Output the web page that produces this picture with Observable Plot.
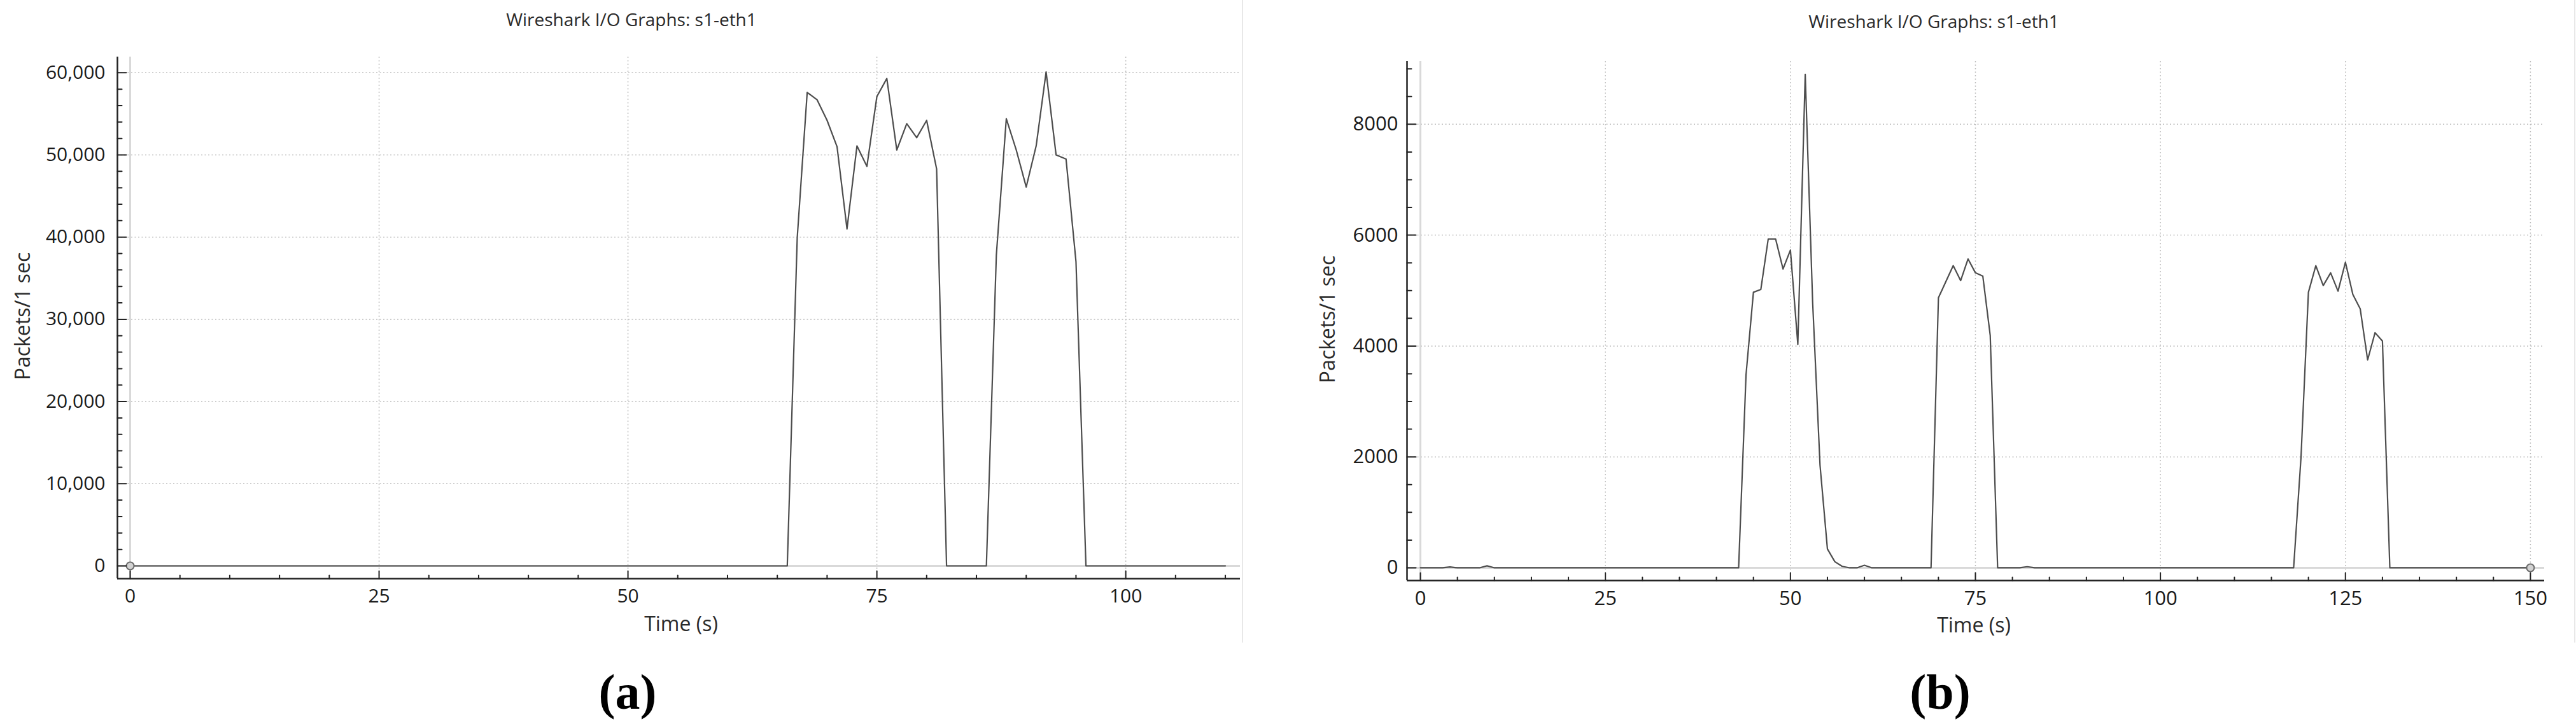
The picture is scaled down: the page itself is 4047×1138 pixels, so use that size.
<!DOCTYPE html>
<html><head><meta charset="utf-8">
<script src="https://cdn.jsdelivr.net/npm/d3@7"></script>
<script src="https://cdn.jsdelivr.net/npm/@observablehq/plot@0.6"></script>
<style>
body{margin:0;background:#fff;}
#page{position:relative;width:4047px;height:1138px;overflow:hidden;background:#fff;font-family:"Open Sans",sans-serif;}
.t{position:absolute;white-space:nowrap;transform:translate(-50%,-50%);color:#2a2a2a;line-height:1;}
.rot{transform:translate(-50%,-50%) rotate(-90deg);}
.cap{font-family:"Liberation Serif",serif;font-weight:bold;font-size:78px;color:#000;}
.chart{position:absolute;top:0;}
.border{position:absolute;top:0;width:2px;height:1010px;background:#e8e8e8;}
</style></head><body><div id="page"></div>
<script>
// ---- Panel (a) data: packets per second on s1-eth1 ----
const leftTime    = [0, 66, 67, 68, 69, 70, 71, 72, 73, 74, 75, 76, 77, 78, 79, 80, 81, 82, 86, 87, 88, 89, 90, 91, 92, 93, 94, 95, 96, 110];
const leftPackets = [0, 0, 39900, 57600, 56700, 54200, 51000, 41000, 51100, 48600, 57100, 59300, 50600, 53800, 52100, 54200, 48300, 0, 0, 37800, 54400, 50600, 46100, 51100, 60100, 50000, 49500, 37000, 0, 0];
const leftMarkerTime = [0];
const leftXMajor = [0, 25, 50, 75, 100];
const leftXMinor = [5,10,15,20,30,35,40,45,55,60,65,70,80,85,90,95,105,110];
const leftYMajor = [0, 10000, 20000, 30000, 40000, 50000, 60000];
const leftYMinor = [2000,4000,6000,8000,12000,14000,16000,18000,22000,24000,26000,28000,32000,34000,36000,38000,42000,44000,46000,48000,52000,54000,56000,58000];

// ---- Panel (b) data ----
const rightTime    = [0, 3, 4, 5, 8, 9, 10, 43, 44, 45, 46, 47, 48, 49, 50, 51, 52, 53, 54, 55, 56, 57, 58, 59, 60, 61, 69, 70, 71, 72, 73, 74, 75, 76, 77, 78, 81, 82, 83, 118, 119, 120, 121, 122, 123, 124, 125, 126, 127, 128, 129, 130, 131, 150];
const rightPackets = [0, 0, 15, 0, 0, 35, 0, 0, 3480, 4970, 5020, 5930, 5930, 5390, 5730, 4030, 8900, 4800, 1850, 340, 110, 25, 0, 0, 45, 0, 0, 4870, 5160, 5450, 5180, 5570, 5320, 5260, 4190, 0, 0, 20, 0, 0, 2000, 4970, 5450, 5090, 5320, 4990, 5510, 4930, 4670, 3750, 4240, 4090, 0, 0];
const rightMarkerTime = [150];
const rightXMajor = [0, 25, 50, 75, 100, 125, 150];
const rightXMinor = [5,10,15,20,30,35,40,45,55,60,65,70,80,85,90,95,105,110,115,120,130,135,140,145];
const rightYMajor = [0, 2000, 4000, 6000, 8000];
const rightYMinor = [500,1000,1500,2500,3000,3500,4500,5000,5500,6500,7000,7500,8500,9000];

const tickShape = {draw(ctx, l){ ctx.moveTo(0,0); ctx.lineTo(0,-l); }};

function panel(o){
  const data = o.time.map((t,i)=>({t, v:o.packets[i]}));
  const markers = o.markers.map(t=>({t, v:0}));
  const grid = {stroke:"#bdbdbd", strokeOpacity:1, strokeWidth:1.5, strokeDasharray:"2,3.5"};
  const tk = {stroke:"#222", strokeWidth:2, shape:tickShape, anchor:"start"};
  return Plot.plot({
    width:o.width, height:o.height,
    marginLeft:o.ml, marginRight:o.mr, marginTop:o.mt, marginBottom:o.mb,
    x:{domain:o.xDomain}, y:{domain:o.yDomain},
    style:{fontFamily:"Open Sans", fontSize:o.fs+"px", color:"#1a1a1a", background:"transparent", overflow:"visible"},
    marks:[
      Plot.gridX(o.xMajor.filter(d=>d!==0), grid),
      Plot.gridY(o.yMajor.filter(d=>d!==0), grid),
      Plot.ruleX([0], {stroke:"#d9d9d9", strokeWidth:3}),
      Plot.ruleY([0], {stroke:"#d9d9d9", strokeWidth:3}),
      Plot.line(data, {x:"t", y:"v", stroke:"#4d4d4d", strokeWidth:2.2}),
      Plot.dot(markers, {x:"t", y:"v", r:6, fill:"#d2d2d2", stroke:"#6a6a6a", strokeWidth:2}),
      Plot.ruleX([o.xDomain[0]], {stroke:"#222", strokeWidth:2.5}),
      Plot.ruleY([o.yDomain[0]], {stroke:"#222", strokeWidth:2.5}),
      Plot.vector(o.xMajor, {x:d=>d, frameAnchor:"bottom", length:12, ...tk}),
      Plot.vector(o.xMinor, {x:d=>d, frameAnchor:"bottom", length:5, ...tk}),
      Plot.vector(o.yMajor, {y:d=>d, frameAnchor:"left", length:14, rotate:90, ...tk}),
      Plot.vector(o.yMinor, {y:d=>d, frameAnchor:"left", length:7, rotate:90, ...tk}),
      Plot.axisX({ticks:o.xMajor, tickSize:0, tickPadding:16, label:null, fill:"#1a1a1a"}),
      Plot.axisY({ticks:o.yMajor, tickSize:0, tickPadding:o.tp, tickFormat:o.yFormat, label:null, fill:"#1a1a1a"})
    ]
  });
}

const page = document.getElementById("page");
function add(el, left){ el.classList.add("chart"); el.style.left = left+"px"; page.appendChild(el); }

add(panel({time:leftTime, packets:leftPackets, markers:leftMarkerTime,
  xMajor:leftXMajor, xMinor:leftXMinor, yMajor:leftYMajor, yMinor:leftYMinor,
  xDomain:[-1.28, 111.5], yDomain:[-1550, 61920], yFormat:d3.format(","),
  width:2000, height:1000, ml:184, mr:52, mt:89, mb:91, fs:30, tp:19}), 0);

add(panel({time:rightTime, packets:rightPackets, markers:rightMarkerTime,
  xMajor:rightXMajor, xMinor:rightXMinor, yMajor:rightYMajor, yMinor:rightYMinor,
  xDomain:[-1.81, 151.9], yDomain:[-230, 9134], yFormat:d3.format("d"),
  width:2047, height:1000, ml:210, mr:50, mt:96, mb:88, fs:31, tp:14}), 2000);

function text(str, x, y, size, cls){
  const d = document.createElement("div");
  d.className = "t" + (cls ? " "+cls : "");
  d.textContent = str;
  d.style.left = x+"px"; d.style.top = y+"px";
  if (size) d.style.fontSize = size+"px";
  page.appendChild(d);
}
const title = "Wireshark I/O Graphs: s1-eth1";
text(title, 992, 30, 28);
text(title, 3038, 33, 28);
text("Packets/1 sec", 35, 497, 32, "rot");
text("Packets/1 sec", 2085, 502, 32, "rot");
text("Time (s)", 1070, 980, 32);
text("Time (s)", 3101, 982, 32);
text("(a)", 986, 1088, null, "cap");
text("(b)", 3048, 1088, null, "cap");
[1951, 4044].forEach(x=>{ const b=document.createElement("div"); b.className="border"; b.style.left=x+"px"; page.appendChild(b); });
</script>
</body></html>
